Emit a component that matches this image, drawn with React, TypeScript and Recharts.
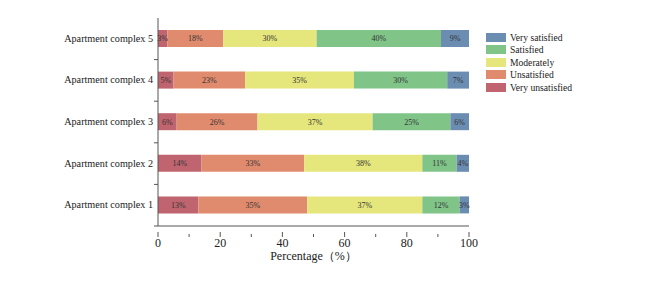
import React from 'react';
import { Bar, BarChart, LabelList, XAxis, YAxis } from 'recharts';

const categories = [
  'Apartment complex 5',
  'Apartment complex 4',
  'Apartment complex 3',
  'Apartment complex 2',
  'Apartment complex 1',
];
const veryUnsatisfied = [3, 5, 6, 14, 13];
const unsatisfied = [18, 23, 26, 33, 35];
const moderately = [30, 35, 37, 38, 37];
const satisfied = [40, 30, 25, 11, 12];
const verySatisfied = [9, 7, 6, 4, 3];
const xTicks = [0, 10, 20, 30, 40, 50, 60, 70, 80, 90, 100];

const series = [
  { key: 'vu', name: 'Very unsatisfied', values: veryUnsatisfied, color: '#c0656f' },
  { key: 'u', name: 'Unsatisfied', values: unsatisfied, color: '#e08b6e' },
  { key: 'm', name: 'Moderately', values: moderately, color: '#e5e67c' },
  { key: 's', name: 'Satisfied', values: satisfied, color: '#80c488' },
  { key: 'vs', name: 'Very satisfied', values: verySatisfied, color: '#6b8db2' },
];

const data = categories.map((name, i) => {
  const row: Record<string, string | number> = { name };
  series.forEach((s) => (row[s.key] = s.values[i]));
  return row;
});

const FONT = "'Liberation Serif', 'Times New Roman', serif";
const W = 651;
const H = 283;
const TOP = 18;
const X_AXIS_H = 30;
const BOTTOM = 57 - X_AXIS_H;
const BAND = (H - TOP - BOTTOM - X_AXIS_H) / categories.length;

function XTick({ x, y, payload }: any) {
  const major = payload.value % 20 === 0;
  return (
    <g>
      <line x1={x} x2={x} y1={major ? y - 2 : y} y2={y + 3} stroke="#555" />
      {major && (
        <text x={x} y={y + 13} textAnchor="middle" fontSize={12} fontFamily={FONT} fill="#222">
          {payload.value}
        </text>
      )}
    </g>
  );
}

function YTick({ x, y, payload }: any) {
  const yb = y + BAND / 2;
  return (
    <g>
      <line x1={x + 4} x2={x + 8} y1={yb} y2={yb} stroke="#555" />
      <text x={x + 3} y={y + 3} textAnchor="end" fontSize={10.2} fontFamily={FONT} fill="#222">
        {payload.value}
      </text>
    </g>
  );
}

function LegendBox() {
  return (
    <div
      style={{
        position: 'absolute',
        left: 486,
        top: 31,
        fontFamily: FONT,
        fontSize: 9.6,
        color: '#222',
      }}
    >
      {[...series].reverse().map((s) => (
        <div key={s.key} style={{ display: 'flex', alignItems: 'center', height: 12.5 }}>
          <span style={{ width: 20, height: 9, background: s.color, marginRight: 4 }} />
          <span>{s.name}</span>
        </div>
      ))}
    </div>
  );
}

export default function App() {
  return (
    <div style={{ position: 'absolute', left: 0, top: 0, width: W, height: H, background: '#fff' }}>
      <BarChart
        width={W}
        height={H}
        data={data}
        layout="vertical"
        margin={{ top: TOP, right: 182, bottom: BOTTOM, left: 0 }}
      >
        <XAxis
          type="number"
          domain={[0, 100]}
          ticks={xTicks}
          interval={0}
          height={X_AXIS_H}
          tick={<XTick />}
          tickLine={false}
          axisLine={{ stroke: '#555' }}
          label={{
            value: 'Percentage（%）',
            position: 'insideBottom',
            offset: -4,
            fontSize: 12,
            fontFamily: FONT,
            fill: '#222',
          }}
        />
        <YAxis
          type="category"
          dataKey="name"
          width={158}
          tick={<YTick />}
          tickLine={false}
          axisLine={{ stroke: '#555' }}
        />
        {series.map((s) => (
          <Bar key={s.key} dataKey={s.key} name={s.name} stackId="a" fill={s.color} barSize={17} isAnimationActive={false}>
            <LabelList
              dataKey={s.key}
              position="center"
              formatter={(v: any) => `${v}%`}
              style={{ fontSize: 8, fontFamily: FONT, fill: '#333' }}
            />
          </Bar>
        ))}
      </BarChart>
      <LegendBox />
    </div>
  );
}
